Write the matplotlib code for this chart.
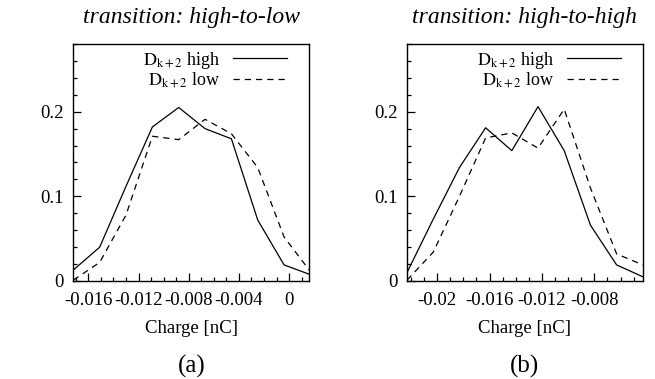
import numpy as np
import matplotlib
matplotlib.use('Agg')
import matplotlib.pyplot as plt
from matplotlib.ticker import MultipleLocator, FuncFormatter

plt.rcParams['font.family'] = ['Liberation Serif', 'DejaVu Serif']
plt.rcParams['mathtext.fontset'] = 'stix'

# (a) transition high-to-low
x_a = np.array([-0.0172, -0.0151, -0.0130, -0.0109, -0.0088,
                -0.0067, -0.0046, -0.0025, -0.0004, 0.0016])
high_a = [0.013, 0.040, 0.112, 0.182, 0.205, 0.180, 0.168, 0.072, 0.019, 0.008]
low_a = [0.001, 0.022, 0.078, 0.171, 0.167, 0.191, 0.174, 0.134, 0.052, 0.013]

# (b) transition high-to-high
x_b = np.array([-0.0223, -0.0203, -0.0183, -0.0163, -0.0143,
                -0.0123, -0.0103, -0.0083, -0.0063, -0.0043])
high_b = [0.010, 0.073, 0.134, 0.181, 0.154, 0.206, 0.154, 0.066, 0.019, 0.005]
low_b = [0.001, 0.034, 0.100, 0.169, 0.175, 0.157, 0.203, 0.110, 0.032, 0.019]

titles = ['transition: high-to-low', 'transition: high-to-high']
panels = ['(a)', '(b)']
xticks_a = [-0.016, -0.012, -0.008, -0.004, 0]
xticks_b = [-0.02, -0.016, -0.012, -0.008]

fig = plt.figure(figsize=(6.55, 3.79), dpi=100)
ax_a = fig.add_axes([0.112, 0.2586, 0.360, 0.6253])
ax_b = fig.add_axes([0.6214, 0.2586, 0.360, 0.6253])

data = [(ax_a, x_a, high_a, low_a, xticks_a),
        (ax_b, x_b, high_b, low_b, xticks_b)]

lab_hi = r'$\mathrm{D}_{\mathrm{k+2}}$ high'
lab_lo = r'$\mathrm{D}_{\mathrm{k+2}}$ low'

for i, (ax, x, hi, lo, xt) in enumerate(data):
    ax.plot(x, hi, color='black', lw=0.9, label=lab_hi)
    ax.plot(x, lo, color='black', lw=0.9, linestyle=(0, (5, 4)), label=lab_lo)
    ax.set_xlim(x[0], x[-1])
    ax.set_ylim(0, 0.28)
    ax.set_xticks(xt)
    ax.xaxis.set_minor_locator(MultipleLocator(0.001))
    ax.yaxis.set_major_locator(MultipleLocator(0.1))
    ax.yaxis.set_minor_locator(MultipleLocator(0.02))
    fmt = FuncFormatter(lambda v, p: '%g' % round(v, 6))
    ax.xaxis.set_major_formatter(fmt)
    ax.yaxis.set_major_formatter(fmt)
    ax.tick_params(which='both', direction='in', top=False, right=False,
                   labelsize=13.5, width=0.9)
    ax.tick_params(which='major', length=5.5)
    ax.tick_params(axis='x', which='major', pad=8)
    ax.tick_params(axis='y', which='major', pad=7)
    ax.tick_params(which='minor', length=3)
    for s in ax.spines.values():
        s.set_linewidth(1.0)
    ax.set_xlabel('Charge [nC]', fontsize=13.5, labelpad=8)
    ax.set_title(titles[i], fontsize=17, style='italic', pad=15)
    ax.text(0.5, -0.36, panels[i], transform=ax.transAxes, ha='center',
            va='center', fontsize=18)
    ax.legend(loc='upper right', frameon=False, markerfirst=False,
              fontsize=13, handlelength=3.0, handletextpad=0.7,
              labelspacing=0.0, borderaxespad=0.0, borderpad=0.05,
              bbox_to_anchor=(0.91, 0.98))

fig.savefig('out.png', dpi=100)
